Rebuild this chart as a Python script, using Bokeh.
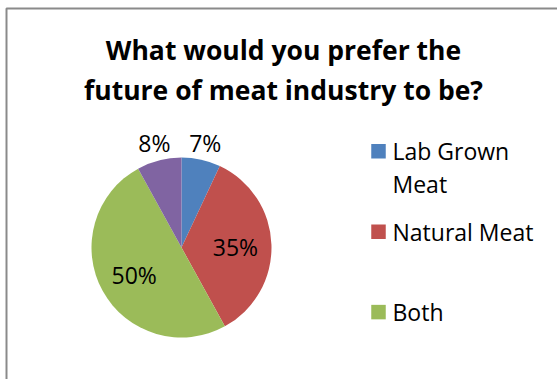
import math
from bokeh.plotting import figure
from bokeh.models import ColumnDataSource, Range1d
from bokeh.embed import file_html
from bokeh.resources import INLINE
from bokeh.core.properties import value

# ---- data ----
title_lines = ["What would you prefer the", "future of meat industry to be?"]
categories = ["Lab Grown Meat", "Natural Meat", "Both", "Other"]
percents = [7, 35, 50, 8]
colors = ["#4F81BD", "#C0504D", "#9BBB59", "#8064A2"]
legend_labels = [["Lab Grown", "Meat"], ["Natural Meat"], ["Both"]]  # 4th entry clipped in original

# ---- layout constants ----
W, H = 557, 379
FONT = "Open Sans"
CX, CY, R = 181, H - 247, 90

p = figure(width=W, height=H, x_range=Range1d(0, W), y_range=Range1d(0, H),
           output_backend="svg", toolbar_location=None, min_border=0,
           x_axis_location=None, y_axis_location=None)
p.title.visible = False
p.grid.visible = False
p.outline_line_color = None
p.background_fill_color = "white"
p.border_fill_color = "white"

# chart-area frame (clipped at right/bottom like the reference)
p.quad(left=[6], right=[620], bottom=[-60], top=[H - 8], fill_color=None,
       line_color="#8a8a8a", line_width=2)

# ---- pie ----
total = float(sum(percents))
starts, ends, mids, fracs = [], [], [], []
cum = 0.0
for v in percents:
    f = v / total
    starts.append(math.pi / 2 - 2 * math.pi * cum)
    ends.append(math.pi / 2 - 2 * math.pi * (cum + f))
    mids.append(math.pi / 2 - 2 * math.pi * (cum + f / 2))
    fracs.append(f)
    cum += f

src = ColumnDataSource(dict(start=starts, end=ends, color=colors, cat=categories))
p.wedge(x=CX, y=CY, radius=R, start_angle="start", end_angle="end",
        direction="clock", fill_color="color", line_color=None, source=src)

lx, ly, lt = [], [], []
for v, f, m in zip(percents, fracs, mids):
    r = R + 19 if f < 0.1 else 0.6 * R
    lx.append(CX + r * math.cos(m))
    ly.append(CY + r * math.sin(m) - 1.5)
    lt.append(f"{v}%")
p.text(x=lx, y=ly, text=lt, text_align="center", text_baseline="middle",
       text_font=value(FONT), text_font_size="23px", text_color="black")

# ---- title ----
tx = [283] * len(title_lines)
ty = [H - 49.5 - i * 40 for i in range(len(title_lines))]
p.text(x=tx, y=ty, text=title_lines, text_align="center", text_baseline="middle",
       text_font=value(FONT), text_font_style="bold", text_font_size="26.5px",
       text_color="black")

# ---- legend ----
sq = 14.5
first_mid, step, line_pitch = 150.8, 80.4, 32.7
sx, sy, scol = [], [], []
gx, gy, gt = [], [], []
for i, lines in enumerate(legend_labels):
    mid = first_mid + i * step
    sx.append(378)
    sy.append(H - mid)
    scol.append(colors[i])
    for j, line in enumerate(lines):
        gx.append(392)
        gy.append(H - (mid + j * line_pitch))
        gt.append(line)
p.rect(x=sx, y=sy, width=sq, height=sq, fill_color=scol, line_color=None)
p.text(x=gx, y=gy, text=gt, text_align="left", text_baseline="middle",
       text_font=value(FONT), text_font_size="23px", text_color="black")

open("out.html", "w").write(file_html(p, INLINE))
